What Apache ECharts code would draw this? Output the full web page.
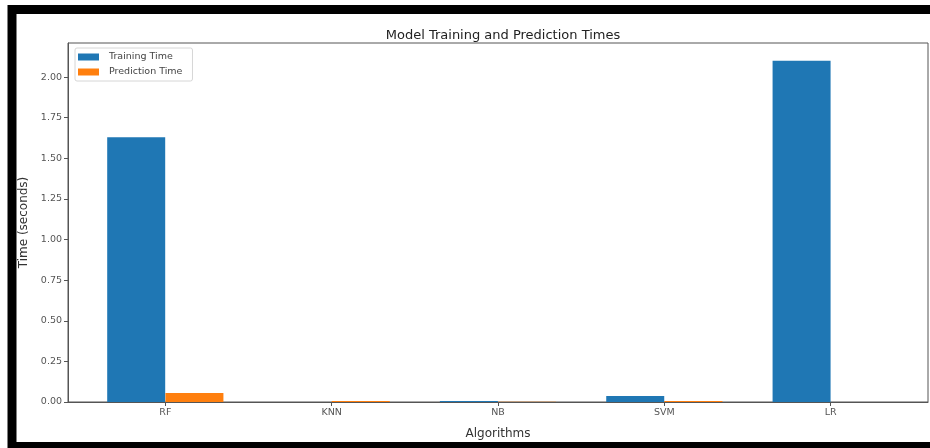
<!DOCTYPE html>
<html>
<head>
<meta charset="utf-8">
<script src="https://cdn.jsdelivr.net/npm/echarts@6/dist/echarts.min.js"></script>
<style>
html,body{margin:0;padding:0;background:#fff;}
#c{width:930px;height:448px;}
</style>
</head>
<body>
<div id="c"></div>
<script>
const categories = ['RF', 'KNN', 'NB', 'SVM', 'LR'];
const trainingTime = [1.63, 0.0005, 0.006, 0.037, 2.10];
const predictionTime = [0.055, 0.006, 0.001, 0.006, 0.0005];
const yTicks = [0, 0.25, 0.5, 0.75, 1.0, 1.25, 1.5, 1.75, 2.0];
const xTicks = [0, 1, 2, 3, 4];

const barW = 0.35;
const FONT = 'DejaVu Sans';
const chart = echarts.init(document.getElementById('c'));
chart.setOption({
  animation: false,
  backgroundColor: '#fff',
  title: {
    text: 'Model Training and Prediction Times',
    left: 498, top: 24, textAlign: 'center',
    textStyle: { fontFamily: FONT, fontSize: 13, fontWeight: 'normal', color: '#222' }
  },
  legend: {
    data: ['Training Time', 'Prediction Time'],
    orient: 'vertical', left: 75, top: 48,
    icon: 'rect', itemWidth: 21, itemHeight: 7, itemGap: 3,
    padding: [3, 10, 3, 3],
    borderColor: '#d6d6d6', borderWidth: 1, borderRadius: 2,
    textStyle: { fontFamily: FONT, fontSize: 9.5, color: '#444', lineHeight: 12, padding: [0, 0, 0, 5] }
  },
  grid: {
    left: 68, top: 43, right: 2, bottom: 46,
    show: true, borderColor: '#555', borderWidth: 1, backgroundColor: 'transparent'
  },
  xAxis: {
    type: 'value', min: -0.585, max: 4.585,
    name: 'Algorithms', nameLocation: 'middle', nameGap: 26,
    nameTextStyle: { fontFamily: FONT, fontSize: 12, color: '#333' },
    splitLine: { show: false },
    axisLine: { show: true, onZero: false, lineStyle: { color: '#555' } },
    axisTick: { show: true, length: 4, customValues: xTicks, lineStyle: { color: '#555' } },
    axisLabel: {
      customValues: xTicks, margin: 6,
      fontFamily: FONT, fontSize: 9.5, color: '#555',
      formatter: v => categories[Math.round(v)]
    }
  },
  yAxis: {
    type: 'value', min: 0, max: 2.21,
    name: 'Time (seconds)', nameLocation: 'middle', nameGap: 38, nameRotate: 90,
    nameTextStyle: { fontFamily: FONT, fontSize: 12, color: '#333' },
    splitLine: { show: false },
    axisLine: { show: true, onZero: false, lineStyle: { color: '#555' } },
    axisTick: { show: true, length: 4, customValues: yTicks, lineStyle: { color: '#555' } },
    axisLabel: {
      customValues: yTicks, margin: 6,
      fontFamily: FONT, fontSize: 9.5, color: '#555',
      formatter: v => v.toFixed(2)
    }
  },
  series: [
    {
      name: 'Training Time', type: 'bar', barWidth: 58, barGap: '-100%',
      itemStyle: { color: '#1f77b4' },
      data: trainingTime.map((v, i) => [i - barW / 2, v])
    },
    {
      name: 'Prediction Time', type: 'bar', barWidth: 58, barGap: '-100%',
      itemStyle: { color: '#ff7f0e' },
      data: predictionTime.map((v, i) => [i + barW / 2, v])
    }
  ],
  graphic: [{
    type: 'rect', z: 100, silent: true,
    shape: { x: 12, y: 9.5, width: 940, height: 437 },
    style: { fill: 'none', stroke: '#000', lineWidth: 9 }
  }]
});
</script>
</body>
</html>
